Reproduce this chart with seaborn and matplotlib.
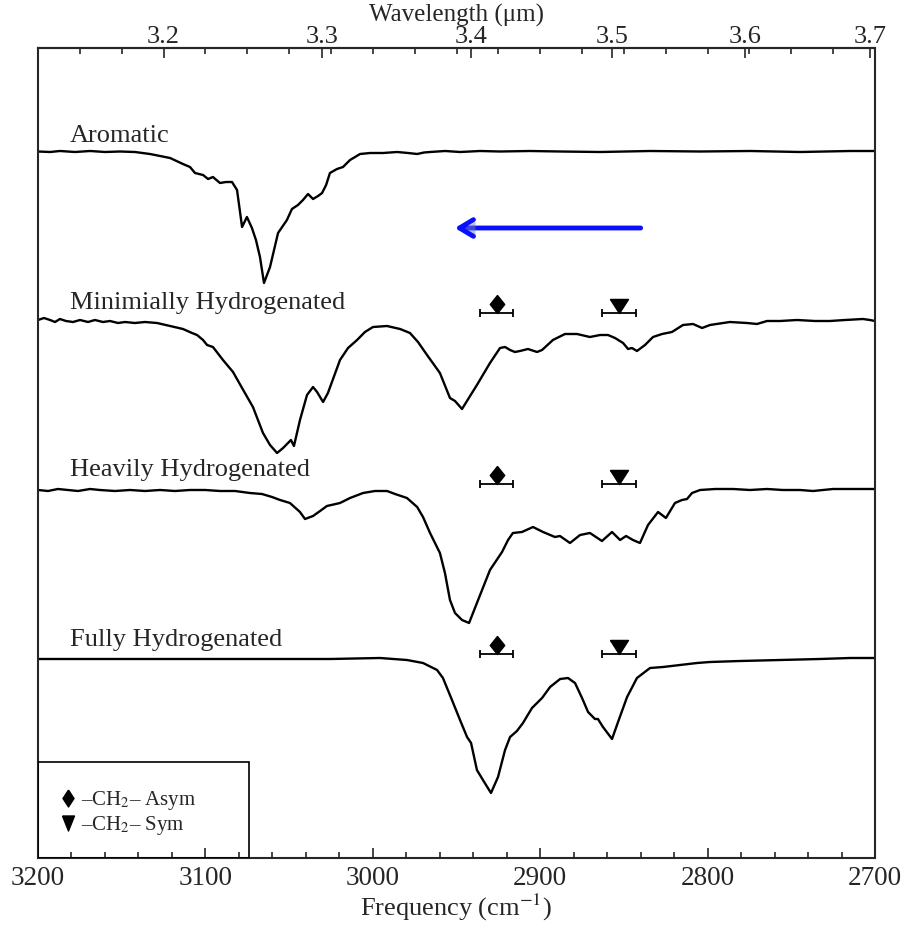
import numpy as np
import pandas as pd
import matplotlib
matplotlib.use("Agg")
import matplotlib.pyplot as plt
import seaborn as sns
from matplotlib.lines import Line2D
from matplotlib.patches import Rectangle
from matplotlib.ticker import MultipleLocator, FixedLocator
import matplotlib.patheffects as pe

# ---------------- data ----------------
spectrum_names = ["Aromatic", "Minimially Hydrogenated", "Heavily Hydrogenated", "Fully Hydrogenated"]

arom_freq = [3200, 3192.8, 3186.9, 3177.9, 3168.9, 3160.0, 3151.0, 3142.1, 3133.1, 3127.1,
             3121.1, 3113.4, 3109.2, 3106.2, 3101.4, 3098.4, 3095.5, 3091.3, 3087.7, 3084.1,
             3081.1, 3078.1, 3075.2, 3072.2, 3069.8, 3067.4, 3065.0, 3061.4, 3056.6, 3051.3,
             3048.3, 3044.7, 3041.7, 3038.7, 3035.7, 3032.7, 3030.3, 3027.9, 3025.6, 3021.4,
             3017.8, 3013.6, 3007.6, 3001.6, 2993.9, 2985.5, 2978.9, 2973.5, 2969.4, 2965.8,
             2956.8, 2947.8, 2935.9, 2924.0, 2906.1, 2888.1, 2864.2, 2834.3, 2804.4, 2774.6,
             2744.7, 2714.8, 2700.0]
arom_depth = [0.5, 1, 0, 1, 0, 1, 0.5, 1, 3, 5,
              7, 13, 16, 22, 24, 28, 26, 32, 31, 31,
              39, 76, 66, 77, 89, 106, 132, 116, 82, 69,
              58, 54, 49, 43, 48, 45, 42, 34, 22, 18,
              16, 9, 3, 2, 2, 1, 2, 3, 1.5, 1,
              0, 1, 0, 0.5, 0, 0.5, 1, 0, 0.5, 0,
              1, 0, 0]

min_freq = [3200, 3196.4, 3192.8, 3189.8, 3186.9, 3183.3, 3179.1, 3174.9, 3170.1, 3166.0,
            3161.2, 3157.0, 3152.2, 3148.0, 3142.1, 3136.1, 3128.9, 3121.1, 3113.4, 3108.0,
            3105.0, 3101.4, 3099.0, 3095.5, 3089.5, 3083.5, 3078.1, 3071.6, 3065.6, 3061.4,
            3057.2, 3053.6, 3048.9, 3047.1, 3043.5, 3039.3, 3035.7, 3033.3, 3029.7, 3026.8,
            3019.6, 3014.8, 3009.4, 3004.7, 2999.9, 2991.5, 2983.7, 2977.8, 2973.0, 2967.6,
            2959.9, 2953.9, 2950.9, 2946.7, 2941.9, 2937.8, 2930.0, 2924.0, 2921.0, 2918.0,
            2915.1, 2912.1, 2907.3, 2901.9, 2898.9, 2892.4, 2885.2, 2878.0, 2870.3, 2864.2,
            2859.5, 2855.3, 2850.5, 2847.5, 2845.2, 2842.2, 2837.4, 2832.6, 2827.2, 2821.3,
            2814.7, 2808.7, 2803.3, 2798.6, 2786.7, 2776.5, 2770.5, 2764.5, 2756.7, 2746.6,
            2735.8, 2726.9, 2717.9, 2707.2, 2703.0, 2700.0]
min_depth = [0, -2, 0, 2, -1, 1, 2, 0, 2, 0,
             2, 1, 3, 2, 3, 2, 3, 6, 9, 13,
             15, 20, 25, 27, 40, 52, 68, 87, 113, 125,
             133, 128, 120, 126, 100, 75, 67, 72, 82, 73,
             40, 28, 20, 12, 7, 6, 9, 13, 22, 35,
             53, 78, 81, 89, 76, 65, 43, 28, 27, 30,
             32, 31, 29, 32, 30, 20, 14, 14, 17, 15,
             15, 18, 23, 29, 28, 31, 25, 17, 14, 12,
             5, 4, 8, 5, 2, 3, 4, 1, 1, 0,
             1, 1, 0, -1, 0, 1]

heavy_freq = [3200, 3194.0, 3188.1, 3182.1, 3176.1, 3168.9, 3163.0, 3154.0, 3145.0, 3136.1,
              3127.1, 3118.2, 3109.2, 3100.2, 3091.3, 3082.3, 3073.4, 3066.2, 3060.2, 3055.4,
              3049.5, 3043.5, 3040.5, 3035.7, 3031.5, 3027.4, 3019.6, 3013.6, 3005.8, 2998.7,
              2991.5, 2986.7, 2979.6, 2973.5, 2970.0, 2965.8, 2959.9, 2956.9, 2953.9, 2950.9,
              2946.7, 2942.5, 2937.8, 2930.0, 2922.8, 2919.2, 2916.3, 2910.9, 2904.3, 2898.3,
              2891.2, 2888.2, 2882.2, 2876.2, 2870.3, 2863.1, 2857.1, 2852.3, 2848.7, 2844.6,
              2840.4, 2835.6, 2829.6, 2824.9, 2819.5, 2815.3, 2812.3, 2809.3, 2804.5, 2795.5,
              2784.8, 2774.7, 2764.5, 2755.0, 2744.8, 2737.0, 2725.1, 2714.9, 2700.0]
heavy_depth = [0, 1, -1, 0, 1, -1, 0, 1, 0, 1,
               0, 1, 0, 0, 1, 1, 3, 4, 7, 10,
               13, 22, 29, 26, 21, 16, 13, 8, 3, 1,
               1, 4, 8, 17, 27, 43, 63, 83, 110, 123,
               130, 133, 113, 80, 62, 50, 43, 42, 37, 42,
               47, 46, 53, 45, 43, 51, 42, 50, 46, 50,
               53, 35, 22, 28, 13, 10, 9, 3, 0, -1,
               -1, 0, -1, 0, 0, 1, -1, -1, -1]

full_freq = [3200, 3174.9, 3145.0, 3115.2, 3085.3, 3055.4, 3025.6, 2995.7, 2979.6, 2970.0,
             2961.6, 2958.1, 2952.7, 2947.9, 2943.7, 2941.3, 2937.8, 2934.2, 2929.4, 2925.2,
             2921.0, 2918.0, 2913.9, 2910.3, 2904.9, 2898.9, 2894.1, 2888.1, 2883.4, 2879.2,
             2875.0, 2871.4, 2867.3, 2865.5, 2862.5, 2857.1, 2853.5, 2848.1, 2842.2, 2834.4,
             2826.6, 2816.5, 2806.3, 2798.6, 2780.6, 2756.7, 2732.9, 2714.9, 2700.0]
full_depth = [1, 1, 1, 1, 1, 1, 1, 0, 2, 5,
              12, 20, 42, 62, 79, 85, 112, 122, 135, 119,
              92, 79, 73, 65, 50, 40, 29, 21, 20, 25,
              40, 54, 61, 61, 69, 81, 64, 39, 20, 10,
              9, 7, 5, 4, 3, 2, 1, 0, 0]

# vertical offsets of the stacked spectra (axis units)
spectrum_offsets = [707, 538, 368, 200]
label_levels = [716, 549, 382, 212]

# CH2 band positions (cm^-1) and half-width of the range bars
asym_freq = 2926
sym_freq = 2853
band_halfwidth = 10
marker_levels = [545, 374, 204]   # for the three hydrogenated spectra

wavelength_ticks = [3.2, 3.3, 3.4, 3.5, 3.6, 3.7]
wavelength_labels = ["3.2", "3.3", "3.4", "3.5", "3.6", "3.7"]
legend_labels = ["\u2013CH$_2$\u2013 Asym", "\u2013CH$_2$\u2013 Sym"]

# ---------------- style ----------------
sns.set_style("ticks")
plt.rcParams["font.family"] = ["Liberation Serif", "DejaVu Serif"]
plt.rcParams["mathtext.fontset"] = "stix"

fig = plt.figure(figsize=(9.03, 9.26), dpi=100)
ax = fig.add_axes([38 / 903, 68 / 926, 837 / 903, 810 / 926])

frames = []
for name, fr, dp, off in zip(spectrum_names,
                             [arom_freq, min_freq, heavy_freq, full_freq],
                             [arom_depth, min_depth, heavy_depth, full_depth],
                             spectrum_offsets):
    frames.append(pd.DataFrame({"spectrum": name, "freq": fr,
                                "signal": off - np.asarray(dp, float)}))
df = pd.concat(frames, ignore_index=True)

sns.lineplot(data=df, x="freq", y="signal", hue="spectrum", palette=["black"] * 4,
             sort=False, estimator=None, legend=False, lw=1.7, ax=ax)

ax.set_xlim(3200, 2700)
ax.set_ylim(0, 810)
ax.set_yticks([])
ax.set_ylabel("")

# series labels
for name, lvl in zip(spectrum_names, label_levels):
    ax.text(3181, lvl, name, fontsize=19, va="baseline", ha="left")

# band markers with range bars
diamond = [(0, 1), (0.8, 0), (0, -1), (-0.8, 0), (0, 1)]
tri_down = [(-1, 0.78), (1, 0.78), (0, -0.78), (-1, 0.78)]
for lvl in marker_levels:
    ax.errorbar([asym_freq, sym_freq], [lvl, lvl], xerr=band_halfwidth, fmt="none",
                ecolor="black", elinewidth=1.3, capsize=3, capthick=1.3)
    ax.plot([asym_freq], [lvl + 9], marker=diamond, ms=13, color="black", ls="none")
    ax.plot([sym_freq], [lvl + 7], marker=tri_down, ms=13, color="black", ls="none")

# blue arrow
arr = ax.annotate("", xy=(2951, 630), xytext=(2840, 630),
                  arrowprops=dict(arrowstyle="->,head_length=1.0,head_width=0.6",
                                  color="#0a10ff", lw=3.5, shrinkA=0, shrinkB=0,
                                  mutation_scale=10))
arr.arrow_patch.set_path_effects([pe.SimplePatchShadow(offset=(1.5, -1.5),
                                                       shadow_rgbFace="#7080c0", alpha=0.5),
                                  pe.Normal()])

# legend box
ax.add_patch(Rectangle((0, 0), 0.2521, 0.1185, transform=ax.transAxes, fill=False,
                       edgecolor="black", lw=1.2, zorder=5))
leg_diamond = [(0, 1), (0.65, 0), (0, -1), (-0.65, 0), (0, 1)]
leg_tri = [(-0.8, 1), (0.8, 1), (0, -1), (-0.8, 1)]
handles = [Line2D([], [], marker=leg_diamond, ms=12.2, color="black", ls="none"),
           Line2D([], [], marker=leg_tri, ms=10.8, color="black", ls="none")]
ax.legend(handles, legend_labels, loc="center left", bbox_to_anchor=(0.0234, 0.0555),
          frameon=False, fontsize=15, handlelength=1.0, handletextpad=0.1,
          borderpad=0, labelspacing=0.1, borderaxespad=0)

# axes / ticks
for sp in ax.spines.values():
    sp.set_linewidth(1.5)
    sp.set_visible(True)
ax.xaxis.set_major_locator(MultipleLocator(100))
ax.xaxis.set_minor_locator(MultipleLocator(20))
ax.tick_params(axis="x", which="both", direction="in", top=False, bottom=True,
               labelsize=19.5, pad=5.5, width=1.2)
ax.tick_params(axis="x", which="major", length=7)
ax.tick_params(axis="x", which="minor", length=4)
ax.set_xlabel("Frequency (cm$^{-1}$)", fontsize=19, labelpad=1)


def f2w(f):
    f = np.asarray(f, dtype=float)
    with np.errstate(divide="ignore", invalid="ignore"):
        return 1e4 / f


sec = ax.secondary_xaxis("top", functions=(f2w, f2w))
sec.set_xticks(wavelength_ticks)
sec.set_xticklabels(wavelength_labels)
sec.xaxis.set_minor_locator(FixedLocator(1e4 / np.arange(3175, 2700, -25)))
sec.tick_params(which="both", direction="in", labelsize=19, pad=0, width=1.2)
sec.tick_params(which="major", length=7)
sec.tick_params(which="minor", length=4)
sec.set_xlabel("Wavelength (\u03bcm)", fontsize=18)
sec.xaxis.set_label_coords(456.5 / 903, (926 - 22) / 926, transform=fig.transFigure)
sec.xaxis.label.set_va("baseline")
sec.spines["top"].set_linewidth(1.5)

fig.savefig("out.png", dpi=100)
